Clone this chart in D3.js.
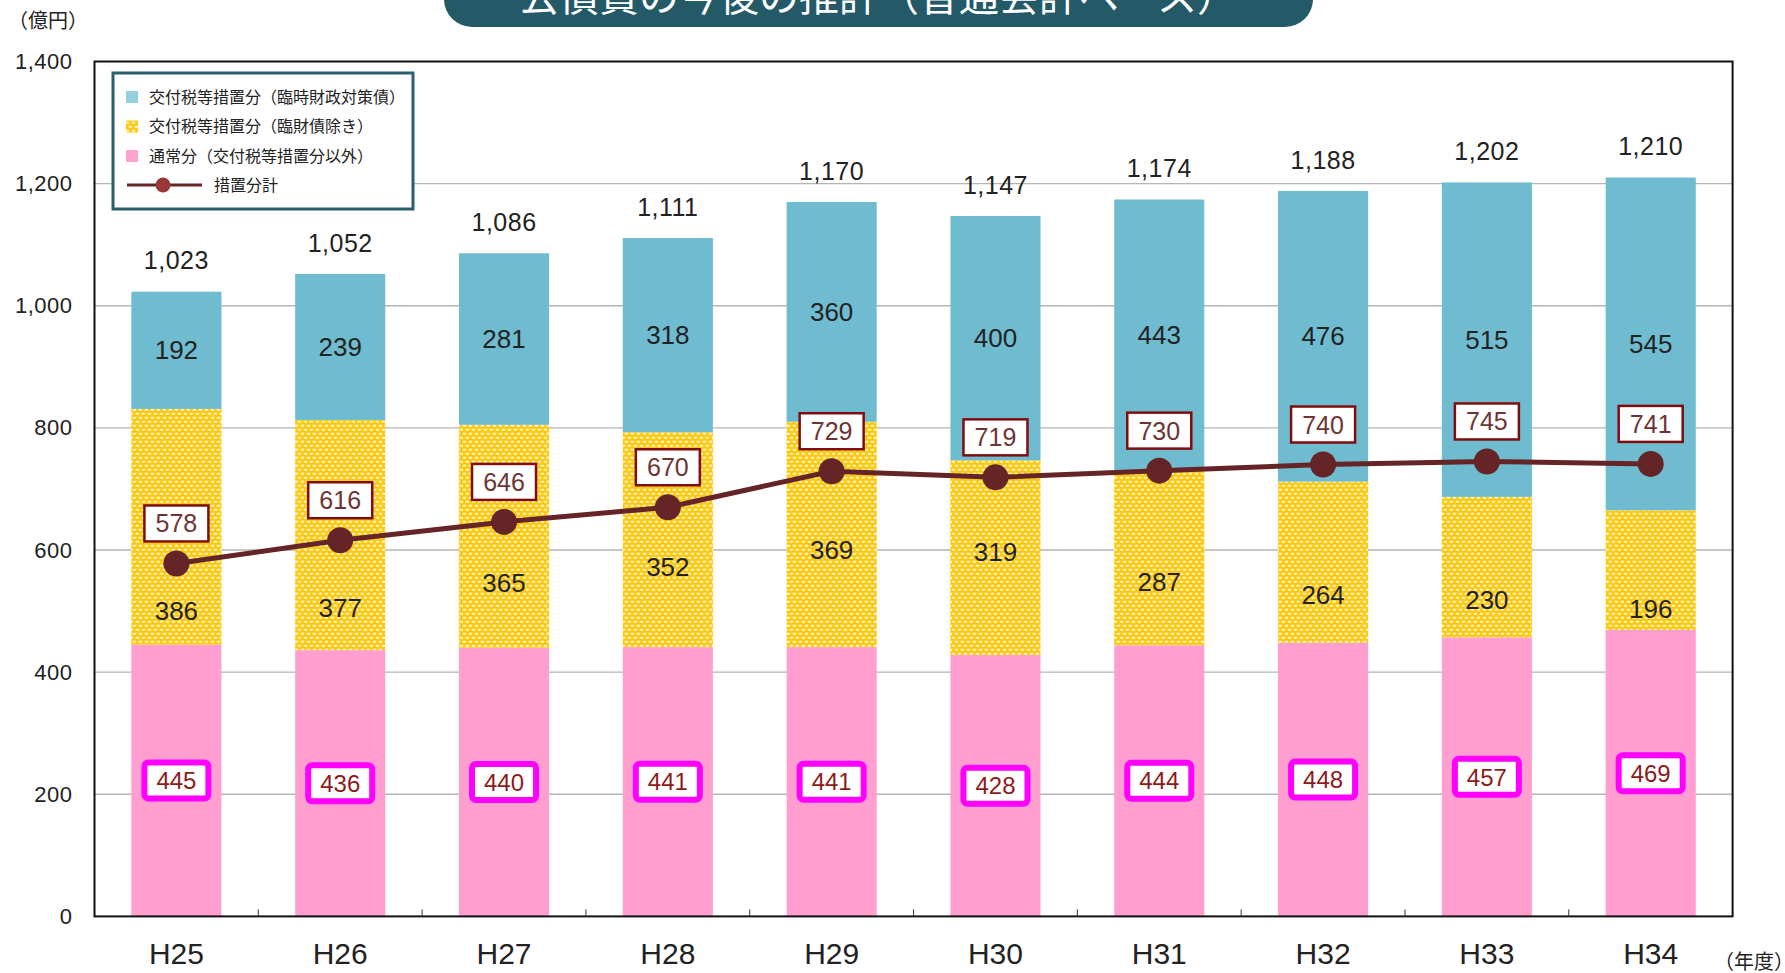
<!DOCTYPE html>
<html>
<head>
<meta charset="utf-8">
<script src="https://cdn.jsdelivr.net/npm/d3@7"></script>
<style>
  body { margin: 0; background: #fff; }
  svg text { font-family: "Liberation Sans", "Noto Sans CJK JP", sans-serif; }
  .jp { font-family: "Noto Sans CJK JP", sans-serif; }
</style>
</head>
<body>
<div id="chart"></div>
<script>
// data (億円)
var years = ["H25", "H26", "H27", "H28", "H29", "H30", "H31", "H32", "H33", "H34"];
var normal = [445, 436, 440, 441, 441, 428, 444, 448, 457, 469];      // 通常分
var kofuExcl = [386, 377, 365, 352, 369, 319, 287, 264, 230, 196];    // 交付税等措置分（臨財債除き）
var kofuRinzai = [192, 239, 281, 318, 360, 400, 443, 476, 515, 545]; // 交付税等措置分（臨時財政対策債）
var totals = [1023, 1052, 1086, 1111, 1170, 1147, 1174, 1188, 1202, 1210];
var sochiTotal = [578, 616, 646, 670, 729, 719, 730, 740, 745, 741];  // 措置分計
var yTicks = [0, 200, 400, 600, 800, 1000, 1200, 1400];
// where the yellow-segment labels sit, in chart units (hand placed in the original)
var midLabelAt = [501, 505, 546, 572, 600, 597, 548, 526, 518, 503];

var width = 1785,
    height = 973;

var svg = d3.select("#chart")
  .append("svg")
    .attr("width", width)
    .attr("height", height);

var plotL = 94.5, plotR = 1732.6, plotT = 61.5, plotB = 916.4;

var x = d3.scaleBand()
  .domain(years)
  .range([plotL, plotR]);

var y = d3.scaleLinear()
  .domain([0, 1400])
  .range([plotB, plotT]);

var barW = x.bandwidth() * 0.55;
var cx = function(i){ return x(years[i]) + x.bandwidth() / 2; };

// yellow dotted pattern
var defs = svg.append("defs");
var pat = defs.append("pattern")
  .attr("id", "dots")
  .attr("patternUnits", "userSpaceOnUse")
  .attr("width", 6)
  .attr("height", 8);
pat.append("rect").attr("width", 6).attr("height", 8).attr("fill", "#ffc90a");
pat.append("rect").attr("x", 0.6).attr("y", 0.8).attr("width", 3.6).attr("height", 2).attr("rx", 0.8).attr("fill", "#fff6d6");
pat.append("rect").attr("x", 3.6).attr("y", 4.8).attr("width", 3.6).attr("height", 2).attr("rx", 0.8).attr("fill", "#fff6d6");
pat.append("rect").attr("x", -2.4).attr("y", 4.8).attr("width", 3.6).attr("height", 2).attr("rx", 0.8).attr("fill", "#fff6d6");

// title tab (cut by the top edge)
svg.append("rect")
  .attr("x", 444).attr("y", -40)
  .attr("width", 869).attr("height", 67)
  .attr("rx", 28)
  .attr("fill", "#245a68");
svg.append("text")
  .attr("class", "jp")
  .attr("x", 878).attr("y", 11)
  .attr("text-anchor", "middle")
  .attr("fill", "#fff")
  .style("font-size", "40px")
  .text("公債費の今後の推計（普通会計ベース）");

// grid
svg.append("g")
  .selectAll("line")
  .data(yTicks.filter(function(d){ return d > 0 && d < 1400; }))
  .enter()
  .append("line")
    .attr("x1", plotL).attr("x2", plotR)
    .attr("y1", function(d){ return y(d); })
    .attr("y2", function(d){ return y(d); })
    .attr("stroke", "#b5b5b5")
    .attr("stroke-width", 1.3);

// y axis labels
var yAxis = d3.axisLeft(y)
  .tickValues(yTicks)
  .tickFormat(d3.format(","))
  .tickSize(0)
  .tickPadding(22);
var yg = svg.append("g")
  .attr("transform", "translate(" + plotL + ",0)")
  .call(yAxis);
yg.select(".domain").remove();
yg.selectAll("text")
  .attr("fill", "#222")
  .style("font-size", "22px")
  .style("letter-spacing", "0.5px");

// stacked bars
var stacks = [
  {vals: normal, fill: "#ff9ecf", base: function(i){ return 0; }},
  {vals: kofuExcl, fill: "url(#dots)", base: function(i){ return normal[i]; }},
  {vals: kofuRinzai, fill: "#6fbcd0", base: function(i){ return normal[i] + kofuExcl[i]; }}
];
stacks.forEach(function(s){
  svg.append("g")
    .selectAll("rect")
    .data(s.vals)
    .enter()
    .append("rect")
      .attr("x", function(d, i){ return cx(i) - barW / 2; })
      .attr("width", barW)
      .attr("y", function(d, i){ return y(s.base(i) + d); })
      .attr("height", function(d, i){ return y(s.base(i)) - y(s.base(i) + d); })
      .attr("fill", s.fill);
});

// frame
svg.append("rect")
  .attr("x", plotL).attr("y", plotT)
  .attr("width", plotR - plotL).attr("height", plotB - plotT)
  .attr("fill", "none")
  .attr("stroke", "#111")
  .attr("stroke-width", 2);

// x ticks between categories
svg.append("g")
  .selectAll("line")
  .data(years.slice(1))
  .enter()
  .append("line")
    .attr("x1", function(d){ return x(d); })
    .attr("x2", function(d){ return x(d); })
    .attr("y1", plotB).attr("y2", plotB - 7)
    .attr("stroke", "#333");

// x axis labels
var xAxis = d3.axisBottom(x).tickSize(0).tickPadding(26);
var xg = svg.append("g")
  .attr("transform", "translate(0," + plotB + ")")
  .call(xAxis);
xg.select(".domain").remove();
xg.selectAll("text")
  .attr("fill", "#222")
  .style("font-size", "30px");

// totals above bars
svg.append("g")
  .selectAll("text")
  .data(totals)
  .enter()
  .append("text")
    .attr("x", function(d, i){ return cx(i); })
    .attr("y", function(d){ return y(d) - 31; })
    .attr("dy", "0.35em")
    .attr("text-anchor", "middle")
    .attr("fill", "#222")
    .style("font-size", "25px")
    .style("letter-spacing", "0.5px")
    .text(d3.format(","));

// blue segment labels (centered)
svg.append("g")
  .selectAll("text")
  .data(kofuRinzai)
  .enter()
  .append("text")
    .attr("x", function(d, i){ return cx(i); })
    .attr("y", function(d, i){ return y(normal[i] + kofuExcl[i] + d / 2); })
    .attr("dy", "0.35em")
    .attr("text-anchor", "middle")
    .attr("fill", "#222")
    .style("font-size", "26px")
    .text(function(d){ return d; });

// yellow segment labels
svg.append("g")
  .selectAll("text")
  .data(kofuExcl)
  .enter()
  .append("text")
    .attr("x", function(d, i){ return cx(i); })
    .attr("y", function(d, i){ return y(midLabelAt[i]); })
    .attr("dy", "0.35em")
    .attr("text-anchor", "middle")
    .attr("fill", "#222")
    .style("font-size", "26px")
    .text(function(d){ return d; });

// pink segment labels in magenta boxes
var pinkLab = svg.append("g")
  .selectAll("g")
  .data(normal)
  .enter()
  .append("g")
    .attr("transform", function(d, i){ return "translate(" + cx(i) + "," + y(d / 2) + ")"; });
pinkLab.append("rect")
  .attr("x", -32).attr("y", -18)
  .attr("width", 64).attr("height", 36)
  .attr("rx", 4)
  .attr("fill", "#fff")
  .attr("stroke", "#ff00ff")
  .attr("stroke-width", 6);
pinkLab.append("text")
  .attr("dy", "0.36em")
  .attr("text-anchor", "middle")
  .attr("fill", "#8e1b1b")
  .style("font-size", "24px")
  .text(function(d){ return d; });

// 措置分計 line
var line = d3.line()
  .x(function(d, i){ return cx(i); })
  .y(function(d){ return y(d); });
svg.append("path")
  .datum(sochiTotal)
  .attr("d", line)
  .attr("fill", "none")
  .attr("stroke", "#652426")
  .attr("stroke-width", 5);
svg.append("g")
  .selectAll("circle")
  .data(sochiTotal)
  .enter()
  .append("circle")
    .attr("cx", function(d, i){ return cx(i); })
    .attr("cy", function(d){ return y(d); })
    .attr("r", 13)
    .attr("fill", "#652426");

var lineLab = svg.append("g")
  .selectAll("g")
  .data(sochiTotal)
  .enter()
  .append("g")
    .attr("transform", function(d, i){ return "translate(" + cx(i) + "," + (y(d) - 40) + ")"; });
lineLab.append("rect")
  .attr("x", -32).attr("y", -18)
  .attr("width", 64).attr("height", 36)
  .attr("fill", "#fff")
  .attr("stroke", "#800d0d")
  .attr("stroke-width", 2.5);
lineLab.append("text")
  .attr("dy", "0.36em")
  .attr("text-anchor", "middle")
  .attr("fill", "#6e3434")
  .style("font-size", "25px")
  .text(function(d){ return d; });

// legend
var lg = svg.append("g").attr("transform", "translate(113,73)");
lg.append("rect")
  .attr("width", 300).attr("height", 136)
  .attr("fill", "#fff")
  .attr("stroke", "#2b5f6d")
  .attr("stroke-width", 3);
var legendItems = [
  {label: "交付税等措置分（臨時財政対策債）", fill: "#94cfe0"},
  {label: "交付税等措置分（臨財債除き）", fill: "url(#dots)"},
  {label: "通常分（交付税等措置分以外）", fill: "#ffa3d0"}
];
legendItems.forEach(function(d, i){
  var row = 24 + i * 29.5;
  lg.append("rect")
    .attr("x", 13).attr("y", row - 6)
    .attr("width", 12).attr("height", 12)
    .attr("fill", d.fill);
  lg.append("text")
    .attr("class", "jp")
    .attr("x", 36).attr("y", row)
    .attr("dy", "0.35em")
    .attr("fill", "#222")
    .style("font-size", "16px")
    .text(d.label);
});
lg.append("line")
  .attr("x1", 14).attr("x2", 89)
  .attr("y1", 112).attr("y2", 112)
  .attr("stroke", "#652426")
  .attr("stroke-width", 3);
lg.append("circle")
  .attr("cx", 50).attr("cy", 112).attr("r", 7.5)
  .attr("fill", "#983838");
lg.append("text")
  .attr("class", "jp")
  .attr("x", 101).attr("y", 112)
  .attr("dy", "0.35em")
  .attr("fill", "#222")
  .style("font-size", "16px")
  .text("措置分計");

// unit labels
svg.append("text")
  .attr("class", "jp")
  .attr("x", 8).attr("y", 21)
  .attr("dy", "0.35em")
  .attr("fill", "#222")
  .style("font-size", "20px")
  .text("（億円）");
svg.append("text")
  .attr("class", "jp")
  .attr("x", 1714).attr("y", 962)
  .attr("dy", "0.35em")
  .attr("fill", "#222")
  .style("font-size", "20px")
  .text("（年度）");
</script>
</body>
</html>
